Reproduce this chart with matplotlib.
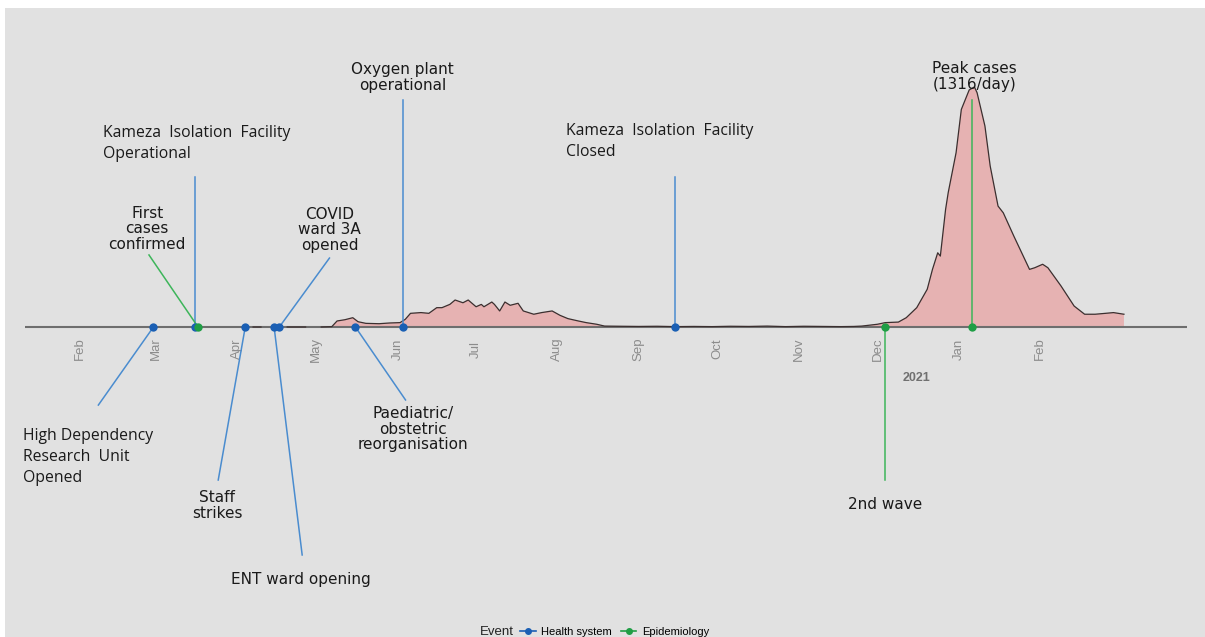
import numpy as np
import pandas as pd
import matplotlib
matplotlib.use('Agg')
import matplotlib.pyplot as plt
import matplotlib.dates as mdates
from matplotlib.patches import Rectangle
from matplotlib.lines import Line2D

# -- Daily confirmed cases (None = gap in the series) --
case_dates = [
    '2020-04-07', '2020-04-10', '2020-04-11', '2020-04-20', '2020-04-27',
    '2020-04-28', '2020-05-03', '2020-05-07', '2020-05-09', '2020-05-12',
    '2020-05-15', '2020-05-17', '2020-05-20', '2020-05-25', '2020-05-29',
    '2020-06-02', '2020-06-04', '2020-06-06', '2020-06-10', '2020-06-13',
    '2020-06-16', '2020-06-18', '2020-06-21', '2020-06-23', '2020-06-26',
    '2020-06-28', '2020-07-01', '2020-07-03', '2020-07-04', '2020-07-07',
    '2020-07-08', '2020-07-10', '2020-07-12', '2020-07-14', '2020-07-17',
    '2020-07-19', '2020-07-23', '2020-07-26', '2020-07-30', '2020-08-02',
    '2020-08-05', '2020-08-09', '2020-08-12', '2020-08-16', '2020-08-19',
    '2020-08-25', '2020-09-01', '2020-09-08', '2020-09-15', '2020-09-22',
    '2020-09-29', '2020-10-06', '2020-10-13', '2020-10-20', '2020-10-27',
    '2020-11-03', '2020-11-10', '2020-11-17', '2020-11-22', '2020-11-25',
    '2020-12-01', '2020-12-04', '2020-12-09', '2020-12-12', '2020-12-16',
    '2020-12-20', '2020-12-22', '2020-12-24', '2020-12-25', '2020-12-27',
    '2020-12-28', '2020-12-31', '2021-01-02', '2021-01-05', '2021-01-07',
    '2021-01-08', '2021-01-11', '2021-01-13', '2021-01-16', '2021-01-18',
    '2021-01-22', '2021-01-28', '2021-01-30', '2021-02-02', '2021-02-04',
    '2021-02-09', '2021-02-14', '2021-02-18', '2021-02-22', '2021-02-26',
    '2021-03-01', '2021-03-05',
]
case_counts = [
    0, 0, None, 0, 0,
    None, 0, 2, 33, 40,
    51, 29, 20, 18, 22,
    24, 42, 75, 79, 75,
    106, 106, 124, 148, 133,
    148, 111, 124, 111, 137,
    124, 88, 137, 119, 130,
    88, 70, 79, 88, 64,
    46, 33, 24, 15, 5,
    4, 3, 4, 2, 3,
    2, 4, 3, 5, 2,
    4, 3, 2, 3, 5,
    15, 24, 27, 51, 106,
    207, 316, 407, 389, 645,
    737, 956, 1193, 1300, 1316,
    1285, 1102, 883, 663, 626,
    499, 316, 325, 344, 325,
    225, 115, 70, 70, 75,
    79, 70,
]

# -- Events --
event_dates = ['2020-02-29', '2020-03-16', '2020-03-17', '2020-04-04',
               '2020-04-15', '2020-04-17', '2020-05-16', '2020-06-03',
               '2020-09-15', '2020-12-04', '2021-01-06']
event_labels = [
    'High Dependency\nResearch  Unit\nOpened',
    'Kameza  Isolation  Facility\nOperational',
    'First\ncases\nconfirmed',
    'Staff\nstrikes',
    'ENT ward opening',
    'COVID\nward 3A\nopened',
    'Paediatric/\nobstetric\nreorganisation',
    'Oxygen plant\noperational',
    'Kameza  Isolation  Facility\nClosed',
    '2nd wave',
    'Peak cases\n(1316/day)',
]
event_types = ['Health system', 'Health system', 'Epidemiology', 'Health system',
               'Health system', 'Health system', 'Health system', 'Health system',
               'Health system', 'Epidemiology', 'Epidemiology']

# layout per event: line end (dx days, y), text (dx days, y), ha, va, style
LAYOUT = [
    (-21.0, -428, -49.6, -553, 'left', 'top', 'open'),
    (0.0, 822, -35.1, 904, 'left', 'bottom', 'open'),
    (-18.7, 395, -19.4, 411, 'center', 'bottom', 'sans'),
    (-10.3, -839, -10.7, -894, 'center', 'top', 'sans'),
    (10.7, -1250, 10.3, -1387, 'center', 'center', 'sans'),
    (19.1, 378, 19.1, 406, 'center', 'bottom', 'sans'),
    (19.1, -400, 22.1, -433, 'center', 'top', 'sans'),
    (0.0, 1245, 0.0, 1283, 'center', 'bottom', 'sans'),
    (0.0, 822, -41.9, 916, 'left', 'bottom', 'open'),
    (0.0, -839, 0.0, -976, 'center', 'center', 'sans'),
    (0.0, 1245, 1.0, 1289, 'center', 'bottom', 'sans'),
]

DOT_COL = {'Health system': '#1a5fb4', 'Epidemiology': '#1f9e45'}
LINE_COL = {'Health system': '#4a8ccf', 'Epidemiology': '#3db55a'}

PX_PER_DAY = 2.623
CASES_PER_PX = 1316 / 240.0
W, H = 1205, 637
AXIS_PX = 327

base = mdates.date2num(pd.Timestamp('2020-02-01'))
x0 = base - 80 / PX_PER_DAY

fig = plt.figure(figsize=(W / 100, H / 100), dpi=100)
fig.patch.set_facecolor('white')
fig.patches.append(Rectangle((5 / W, 0), 1 - 5 / W, 1 - 8 / H,
                             transform=fig.transFigure, facecolor='#e1e1e1',
                             edgecolor='none', zorder=-10))
ax = fig.add_axes([0, 0, 1, 1])
ax.set_axis_off()
ax.patch.set_alpha(0)
ax.set_xlim(x0, x0 + W / PX_PER_DAY)
ax.set_ylim(-(H - AXIS_PX) * CASES_PER_PX, AXIS_PX * CASES_PER_PX)

# timeline axis
ax.plot([pd.Timestamp('2020-01-11'), pd.Timestamp('2021-03-29')], [0, 0],
        color='#6e6e6e', lw=1.5, zorder=2, solid_capstyle='butt')

# epidemic curve
cd = pd.to_datetime(case_dates)
cc = np.array([np.nan if v is None else v for v in case_counts], dtype=float)
ax.fill_between(cd, np.nan_to_num(cc), 0, where=~np.isnan(cc),
                color='#e6b2b2', lw=0, zorder=1)
ax.plot(cd, cc, color='#3b2f2f', lw=0.9, zorder=2.5)

# month labels
months = pd.date_range('2020-02-01', '2021-02-01', freq='MS')
for m in months:
    ax.text(m, -22 * CASES_PER_PX, m.strftime('%b'), rotation=90,
            ha='center', va='center', fontsize=9.5, color='#8c8c8c',
            family='Liberation Sans')
ax.text(pd.Timestamp('2020-12-16'), -51 * CASES_PER_PX, '2021',
        ha='center', va='center', fontsize=9, fontweight='bold',
        color='#707070', family='Liberation Sans')

# events
for d, lab, typ, lay in zip(event_dates, event_labels, event_types, LAYOUT):
    t = pd.Timestamp(d)
    ldx, ly, tdx, ty, ha, va, style = lay
    ax.plot([t, t + pd.Timedelta(days=ldx)], [0, ly], color=LINE_COL[typ],
            lw=1.1, zorder=3)
    if style == 'open':
        ax.text(t + pd.Timedelta(days=tdx), ty, lab, ha=ha, va=va,
                fontsize=11.3, family='Open Sans', color='#1a1a1a',
                linespacing=1.42)
    else:
        ax.text(t + pd.Timedelta(days=tdx), ty, lab, ha=ha, va=va,
                fontsize=11, family='DejaVu Sans', color='#1a1a1a',
                linespacing=1.05, multialignment='center')

for typ in ['Health system', 'Epidemiology']:
    sel = [pd.Timestamp(d) for d, ty in zip(event_dates, event_types) if ty == typ]
    ax.plot(sel, [0] * len(sel), 'o', ms=6, color=DOT_COL[typ], zorder=4,
            markeredgewidth=0)

# legend
fig.text(480 / W, 1 - 632 / H, 'Event', ha='left', va='center', fontsize=9.5,
         family='Liberation Sans', color='#222222')
handles = [Line2D([], [], color=DOT_COL[k], marker='o', ms=4, lw=1.2)
           for k in ['Health system', 'Epidemiology']]
fig.legend(handles, ['Health system', 'Epidemiology'], ncol=2,
           loc='center left', bbox_to_anchor=(520 / W, 1 - 632 / H),
           frameon=False, prop={'family': 'Liberation Sans', 'size': 8},
           handlelength=1.4, handletextpad=0.5, columnspacing=0.8,
           borderpad=0, borderaxespad=0)

fig.savefig('out.png', dpi=100, facecolor='white')
